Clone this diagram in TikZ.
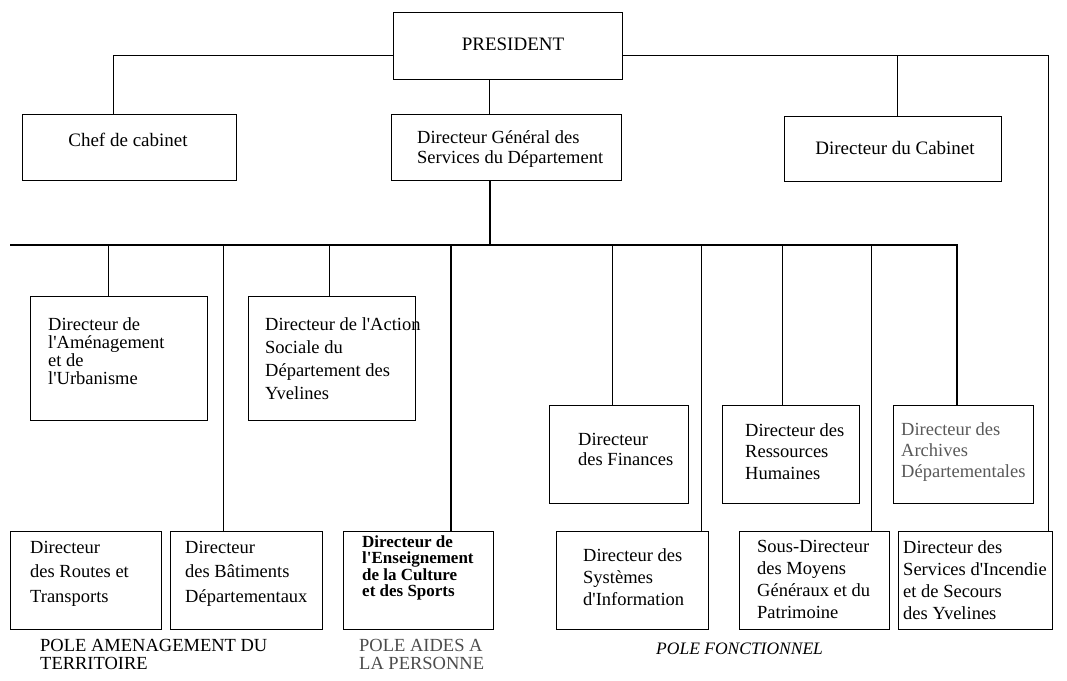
\documentclass[tikz,border=0pt]{standalone}
\usepackage{fontspec}
\setmainfont{Liberation Serif}[Ligatures=TeXOff]
\begin{document}
\begin{tikzpicture}[x=1pt,y=-1pt,
  box/.style={draw, line width=0.9pt, inner sep=0pt},
  thinline/.style={line width=0.9pt},
  thickline/.style={line width=2.4pt},
  txt/.style={anchor=north west, inner sep=0pt, align=left, font=\fontsize{18.5}{#1}\selectfont},
  ctxt/.style={anchor=center, inner sep=0pt, font=\fontsize{19}{21}\selectfont},
  pole/.style={anchor=north west, inner sep=0pt, align=left, font=\fontsize{18.5}{18}\selectfont}
]
\fill[white] (0,0) rectangle (1067,680);
\useasboundingbox (0,0) rectangle (1067,680);

% boxes
\node[box, minimum width=229pt, minimum height=67pt] (pres) at (507.5,45.5) {};
\node[box, minimum width=214pt, minimum height=66pt] (chef) at (129,147) {};
\node[box, minimum width=230pt, minimum height=66pt] (dg) at (506,147) {};
\node[box, minimum width=217pt, minimum height=65pt] (cab) at (892.5,148.5) {};
\node[box, minimum width=177pt, minimum height=124pt] (amen) at (118.5,358) {};
\node[box, minimum width=167pt, minimum height=124pt] (act) at (331.5,358) {};
\node[box, minimum width=139pt, minimum height=98pt] (fin) at (618.5,454) {};
\node[box, minimum width=137pt, minimum height=98pt] (rh) at (790.5,454) {};
\node[box, minimum width=140pt, minimum height=98pt] (arch) at (963,454) {};
\node[box, minimum width=151pt, minimum height=98pt] (routes) at (85.5,580) {};
\node[box, minimum width=152pt, minimum height=98pt] (bat) at (246,580) {};
\node[box, minimum width=150pt, minimum height=98pt] (ens) at (418,580) {};
\node[box, minimum width=152pt, minimum height=98pt] (sys) at (632,580) {};
\node[box, minimum width=150pt, minimum height=98pt] (sous) at (814,580) {};
\node[box, minimum width=154pt, minimum height=98pt] (inc) at (975,580) {};

% texts
\node[ctxt] (presT) at (513,44) {PRESIDENT};
\node[ctxt] (chefT) at (128,140) {Chef de cabinet};
\node[ctxt] (cabT) at (895,148) {Directeur du Cabinet};
\node[txt=20] (dgT) at (417,130) {Directeur Général des\\Services du Département};
\node[txt=18] (amenT) at (48,317) {Directeur de\\l'Aménagement\\et de\\l'Urbanisme};
\node[txt=23] (actT) at (265,317) {Directeur de l'Action\\Sociale du\\Département des\\Yvelines};
\node[txt=20] (finT) at (578,433) {Directeur\\des Finances};
\node[txt=21.5] (rhT) at (745,423) {Directeur des\\Ressources\\Humaines};
\node[txt=21, text=black!65] (archT) at (901,422) {Directeur des\\Archives\\Départementales};
\node[txt=24.5] (routesT) at (30,541) {Directeur\\des Routes et\\Transports};
\node[txt=24.5] (batT) at (185,541) {Directeur\\des Bâtiments\\Départementaux};
\node[anchor=north west, inner sep=0pt, align=left, font=\fontsize{17}{16.5}\selectfont\bfseries] (ensT) at (362,535) {Directeur de\\l'Enseignement\\de la Culture\\et des Sports};
\node[txt=22] (sysT) at (583,548) {Directeur des\\Systèmes\\d'Information};
\node[txt=22] (sousT) at (757,540) {Sous-Directeur\\des Moyens\\Généraux et du\\Patrimoine};
\node[txt=22] (incT) at (903,540) {Directeur des\\Services d'Incendie\\et de Secours\\des Yvelines};

% pole labels
\node[pole] (pole1) at (40,639) {POLE AMENAGEMENT DU\\TERRITOIRE};
\node[pole, text=black!70] (pole2) at (359,639) {POLE AIDES A\\LA PERSONNE};
\node[anchor=north west, inner sep=0pt, font=\fontsize{17.5}{18}\selectfont\itshape] (pole3) at (656,643) {POLE FONCTIONNEL};

% upper connectors
\draw[thinline] ([yshift=-9.5pt]pres.west) -| ([xshift=-16pt]chef.north);
\draw[thinline] ([xshift=-18.5pt]pres.south) -- ([xshift=-17pt]dg.north);
\draw[thinline] ([yshift=-9.5pt]pres.east) -| ([xshift=73pt]inc.north);
\coordinate (jr) at (897,55);
\draw[thinline] (jr) -- (jr |- cab.north);

% bus
\coordinate (busL) at (10,245);
\coordinate (busR) at (957,245);
\draw[thickline] ([xshift=-16pt]dg.south) -- ([xshift=-16pt]dg.south |- busL);
\draw[thickline] (busL) -- (busR) -- (busR |- arch.north);

% drops
\draw[thinline] ([xshift=-10.5pt]amen.north) coordinate (d1) -- (d1 |- busL);
\draw[thinline] ([xshift=-23pt]bat.north) coordinate (d2) -- (d2 |- busL);
\draw[thinline] ([xshift=-2.5pt]act.north) coordinate (d3) -- (d3 |- busL);
\draw[thickline] ([xshift=33pt]ens.north) coordinate (d4) -- (d4 |- busL);
\draw[thinline] ([xshift=-6.5pt]fin.north) coordinate (d5) -- (d5 |- busL);
\draw[thinline] ([xshift=69pt]sys.north) coordinate (d6) -- (d6 |- busL);
\draw[thinline] ([xshift=-8.5pt]rh.north) coordinate (d7) -- (d7 |- busL);
\draw[thinline] ([xshift=57pt]sous.north) coordinate (d8) -- (d8 |- busL);
\end{tikzpicture}
\end{document}
